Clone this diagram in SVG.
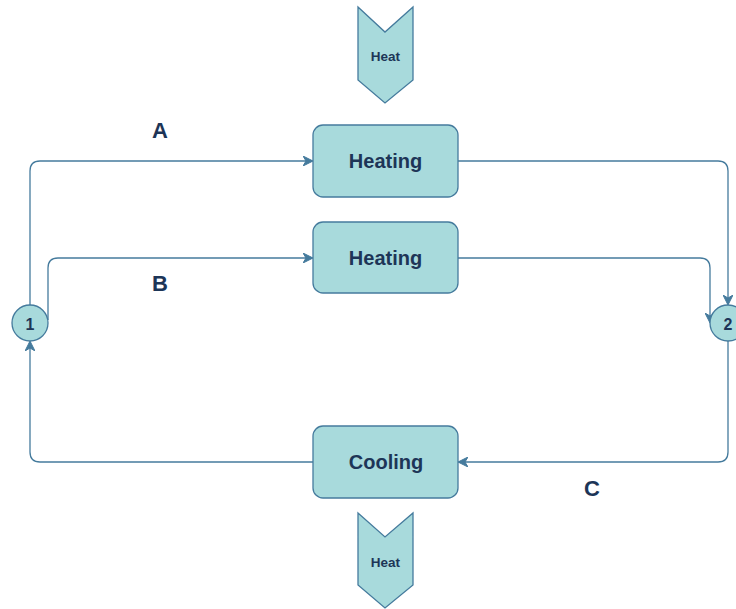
<svg xmlns="http://www.w3.org/2000/svg" width="736" height="609" viewBox="0 0 736 609">
<defs>
<marker id="arr" viewBox="0 0 10 10" refX="9" refY="5" markerWidth="10" markerHeight="10" markerUnits="userSpaceOnUse" orient="auto">
<path d="M0,0 L10,5 L0,10 L3,5 Z" fill="#457b9d" stroke="#457b9d" stroke-width="1"/>
</marker>
</defs>
<style>
.box{fill:#a8dadc;stroke:#457b9d;stroke-width:1.3}
.edge{fill:none;stroke:#457b9d;stroke-width:1.3}
.t{font-family:"Liberation Sans",Arial,sans-serif;font-weight:bold;fill:#1d3557;text-anchor:middle;dominant-baseline:central}
</style>
<rect width="736" height="609" fill="#ffffff"/>
<g id="connectors">
<path class="edge" d="M30,305 V171 Q30,161 40,161 H312" marker-end="url(#arr)"/>
<path class="edge" d="M48,320 V268 Q48,258 58,258 H312" marker-end="url(#arr)"/>
<path class="edge" d="M458,161 H718 Q728,161 728,171 V304" marker-end="url(#arr)"/>
<path class="edge" d="M458,258 H700 Q710,258 710,268 V322" marker-end="url(#arr)"/>
<path class="edge" d="M728,341 V452 Q728,462 718,462 H459" marker-end="url(#arr)"/>
<path class="edge" d="M313,462 H40 Q30,462 30,452 V342" marker-end="url(#arr)"/>
</g>
<g id="heat-top">
<polygon class="box" points="358,7 385,32 413,7 413,80 385,103 358,80"/>
<text class="t" x="385.5" y="56" font-size="13.5">Heat</text>
</g>
<g id="heating-a">
<rect class="box" x="313" y="125" width="145" height="72" rx="10"/>
<text class="t" x="385.5" y="161" font-size="20">Heating</text>
</g>
<g id="heating-b">
<rect class="box" x="313" y="222" width="145" height="71" rx="10"/>
<text class="t" x="385.5" y="258" font-size="20">Heating</text>
</g>
<g id="cooling">
<rect class="box" x="313" y="426" width="145" height="72" rx="10"/>
<text class="t" x="386" y="462" font-size="20">Cooling</text>
</g>
<g id="heat-bottom">
<polygon class="box" points="358,513 385,537 413,513 413,585 385,608 358,585"/>
<text class="t" x="385.5" y="562" font-size="13.5">Heat</text>
</g>
<g id="node1">
<circle class="box" cx="30" cy="323" r="18"/>
<text class="t" x="30" y="324" font-size="16">1</text>
</g>
<g id="node2">
<circle class="box" cx="728" cy="323" r="18"/>
<text class="t" x="728" y="324" font-size="16">2</text>
</g>
<g id="labels">
<text class="t" x="160" y="130" font-size="22">A</text>
<text class="t" x="160" y="283" font-size="22">B</text>
<text class="t" x="592" y="488" font-size="22">C</text>
</g>
</svg>
